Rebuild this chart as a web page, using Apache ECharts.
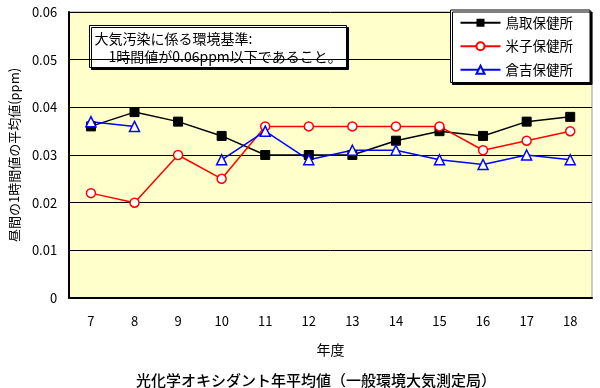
<!DOCTYPE html>
<html><head><meta charset="utf-8">
<script src="https://cdn.jsdelivr.net/npm/echarts@6/dist/echarts.min.js"></script>
<style>html,body{margin:0;padding:0;background:#fff}#c{width:600px;height:388px}</style>
</head><body><div id="c"></div>
<script>
const years = ['7','8','9','10','11','12','13','14','15','16','17','18'];
const tottori = [0.036,0.039,0.037,0.034,0.030,0.030,0.030,0.033,0.035,0.034,0.037,0.038];
const yonago  = [0.022,0.020,0.030,0.025,0.036,0.036,0.036,0.036,0.036,0.031,0.033,0.035];
const kurayoshi = [0.037,0.036,null,0.029,0.035,0.029,0.031,0.031,0.029,0.028,0.030,0.029];
const seriesNames = ['鳥取保健所','米子保健所','倉吉保健所'];
const yTicks = [0,0.01,0.02,0.03,0.04,0.05,0.06];

const F = '"MS PGothic","Noto Sans CJK JP",sans-serif';
const chart = echarts.init(document.getElementById('c'));
chart.setOption({
  animation:false,
  backgroundColor:'#fff',
  title:{text:'光化学オキシダント年平均値（一般環境大気測定局）',left:131,top:368,
    textStyle:{fontFamily:F,fontSize:15,fontWeight:500,color:'#000'}},
  grid:{left:68,top:12,right:8,bottom:90,show:true,backgroundColor:'#FFFFCC',borderColor:'#999',borderWidth:1},
  legend:{orient:'vertical',right:10,top:10,
    backgroundColor:'#fff',borderColor:'#000',borderWidth:1,padding:[6,17,6,9],
    shadowColor:'#000',shadowBlur:0,shadowOffsetX:2,shadowOffsetY:2,
    itemWidth:40,itemHeight:10,itemGap:10,
    textStyle:{fontFamily:F,fontSize:13.5,color:'#000'},
    data:seriesNames},
  xAxis:{type:'category',data:years,boundaryGap:true,
    axisLine:{lineStyle:{color:'#000',width:2}},axisTick:{show:false},
    axisLabel:{color:'#000',fontFamily:F,fontSize:13,margin:17},
    name:'年度',nameLocation:'middle',nameGap:45,
    nameTextStyle:{color:'#000',fontFamily:F,fontSize:14}},
  yAxis:{type:'value',min:0,max:0.06,interval:0.01,
    axisLine:{show:true,lineStyle:{color:'#000',width:2}},axisTick:{show:false},
    axisLabel:{color:'#000',fontFamily:F,fontSize:13,margin:12,
      formatter:v=>{const t=yTicks.find(x=>Math.abs(x-v)<1e-9);return t===0?'0':String(t);}},
    splitLine:{show:true,lineStyle:{color:'#000',width:1}},
    name:'昼間の1時間値の平均値(ppm)',nameLocation:'middle',nameGap:48,
    nameTextStyle:{color:'#000',fontFamily:F,fontSize:13}},
  graphic:[{type:'group',left:89,top:25,children:[
    {type:'rect',shape:{x:0,y:0,width:257,height:42},
     style:{fill:'#fff',stroke:'#000',lineWidth:1,shadowColor:'#000',shadowBlur:0,shadowOffsetX:2,shadowOffsetY:2}},
    {type:'text',x:5,y:4,style:{text:'大気汚染に係る環境基準:\n　1時間値が0.06ppm以下であること。',
      font:'14px '+F,fill:'#000',lineHeight:18}}
  ]}],
  series:[
    {name:seriesNames[0],type:'line',data:tottori,symbol:'rect',symbolSize:9,
     lineStyle:{color:'#000',width:1.5},itemStyle:{color:'#000',borderColor:'#000'}},
    {name:seriesNames[1],type:'line',data:yonago,symbol:'circle',symbolSize:9,
     lineStyle:{color:'#f00',width:1.5},itemStyle:{color:'#fff',borderColor:'#f00',borderWidth:1.5}},
    {name:seriesNames[2],type:'line',data:kurayoshi,symbol:'triangle',symbolSize:10,
     lineStyle:{color:'#00f',width:1.5},itemStyle:{color:'#fff',borderColor:'#00f',borderWidth:1.5}}
  ]
});
</script></body></html>
